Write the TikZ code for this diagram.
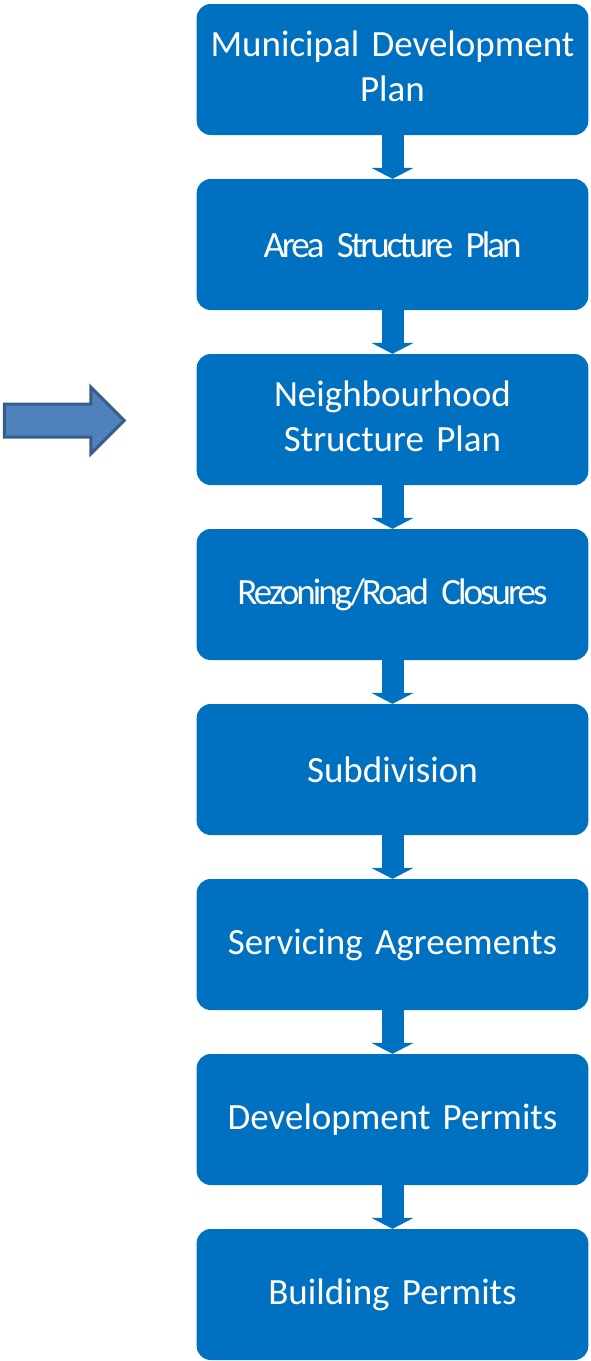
\documentclass[tikz,border=0pt]{standalone}
\usepackage{fontspec}
\setmainfont[WordSpace=0.8]{Carlito}
\newfontfamily\narrowfont[LetterSpace=-8, WordSpace=0.6]{Carlito}
\usetikzlibrary{shapes,arrows,arrows.meta,positioning,calc}
\definecolor{boxblue}{HTML}{0070C0}
\definecolor{steel}{HTML}{4F81BD}
\definecolor{steeledge}{HTML}{385D8A}
\tikzstyle{stage} = [rectangle, fill=boxblue, text=white, rounded corners=14pt, minimum width=391pt, minimum height=131pt, text width=385pt, align=center, font=\fontsize{37}{45}\selectfont]
\tikzstyle{line} = [draw=boxblue, line width=22pt, -{Triangle[width=42pt,length=11pt]}]
\tikzstyle{pointer} = [single arrow, draw=steeledge, fill=steel, line width=3pt, minimum height=120pt, inner sep=0pt, inner ysep=15pt, single arrow head extend=17pt]

\begin{document}
\begin{tikzpicture}[x=1pt, y=1pt, every node/.style={node distance=175pt}]
		\useasboundingbox (0,0) rectangle (590,-1361);
		% Column of stages
		\node[stage] at (392.5,-69.5) (mdp) {Municipal Development\\Plan\vphantom{g}\\[-8pt]};
		\node[stage, below of = mdp](asp){\narrowfont Area Structure Plan};
		\node[stage, below of = asp](nsp){Neighbourhood\\Structure Plan\vphantom{g}\\[-8pt]};
		\node[stage, below of = nsp](rez){\narrowfont Rezoning/Road Closures};
		\node[stage, below of = rez](sub){Subdivision};
		\node[stage, below of = sub](serv){Servicing Agreements};
		\node[stage, below of = serv](dp){Development Permits};
		\node[stage, below of = dp](bp){Building Permits};

		% pointer on the left
		\node[pointer, left=70pt of nsp, yshift=-1pt] (here) {};

		% Paths
		\path [line] (mdp.south) -- (asp.north);
		\path [line] (asp.south) -- (nsp.north);
		\path [line] (nsp.south) -- (rez.north);
		\path [line] (rez.south) -- (sub.north);
		\path [line] (sub.south) -- (serv.north);
		\path [line] (serv.south) -- (dp.north);
		\path [line] (dp.south) -- (bp.north);

	\end{tikzpicture}
\end{document}
